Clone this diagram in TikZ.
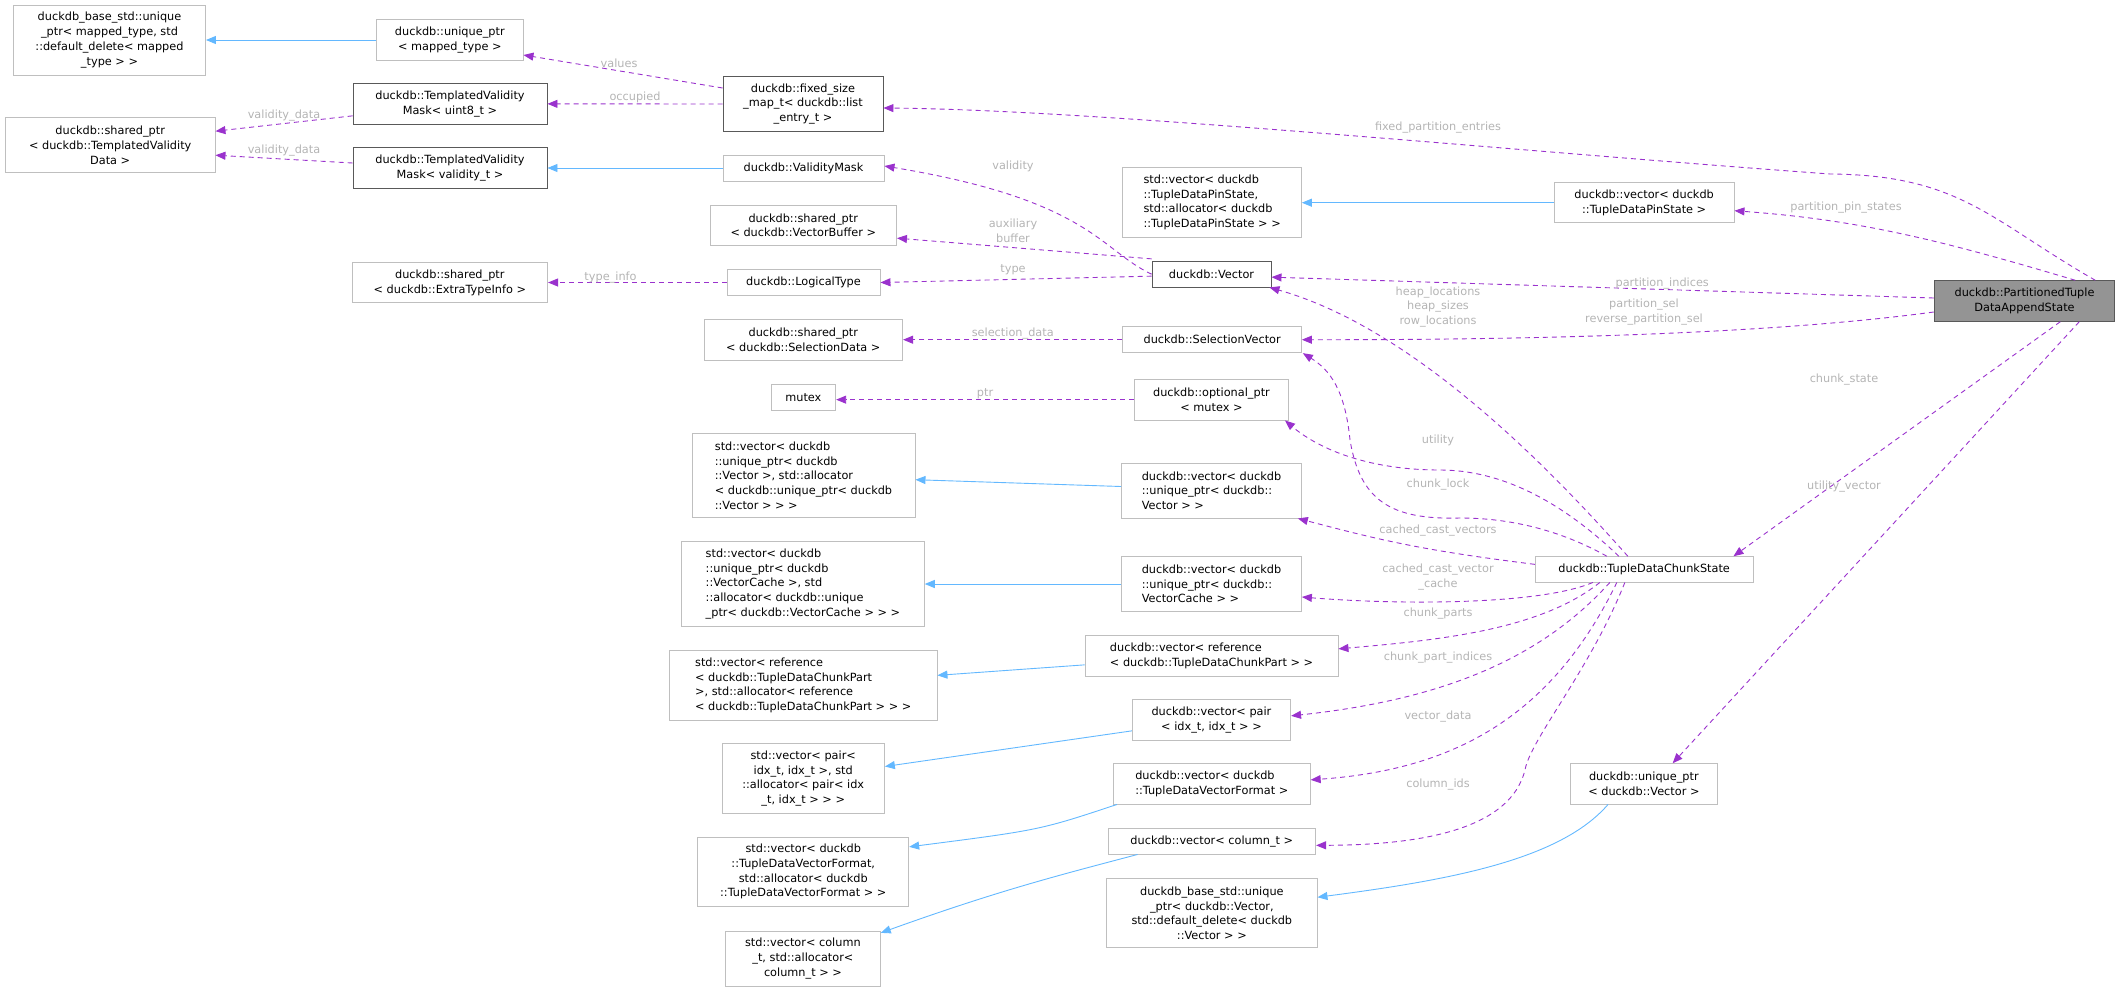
\documentclass[tikz,border=0pt]{standalone}
\usepackage{fontspec}
\setmainfont{DejaVu Sans}
\usetikzlibrary{arrows.meta}
\definecolor{dep}{HTML}{9A32CD}
\definecolor{inh}{HTML}{63B8FF}
\definecolor{lbl}{HTML}{B4B4B4}
\tikzset{
  box/.style={draw=black!25,line width=0.9pt,fill=white,inner sep=0pt,align=center,font=\fontsize{11.3}{14.7}\selectfont},
  dbox/.style={box,draw=black!65},
  mbox/.style={box,draw=black!65,fill=black!42},
  lbox/.style={box,align=left},
  dep/.style={draw=dep,dashed,dash pattern=on 5pt off 4pt,line width=0.9pt,-{Triangle[width=8pt,length=10pt]}},
  inh/.style={draw=inh,line width=0.9pt,-{Triangle[width=8pt,length=10pt]}},
  el/.style={text=lbl,font=\fontsize{11.3}{14.7}\selectfont,align=center,inner sep=1pt}
}
\newcommand\nd[7][box]{\node[#1,minimum width={#5pt-#3pt},minimum height={#6pt-#4pt}] (#2) at ({(#3+#5)/2},{(#4+#6)/2}) {#7};}
\begin{document}
\begin{tikzpicture}[x=1pt,y=-1pt]
\useasboundingbox (0,0) rectangle (2121,991);
% nodes
\nd{bum}{13.5}{5}{205.5}{75}{duckdb\_base\_std::unique\\\_ptr< mapped\_type, std\\::default\_delete< mapped\\\_type > >}
\nd{um}{376.6}{19.7}{523}{60.3}{duckdb::unique\_ptr\\< mapped\_type >}
\nd[dbox]{fsm}{723}{76.7}{883}{131.3}{duckdb::fixed\_size\\\_map\_t< duckdb::list\\\_entry\_t >}
\nd[dbox]{tvu}{353}{83.7}{547}{124}{duckdb::TemplatedValidity\\Mask< uint8\_t >}
\nd{stvd}{5.4}{117.7}{215}{172.7}{duckdb::shared\_ptr\\< duckdb::TemplatedValidity\\Data >}
\nd[dbox]{tvv}{353}{147.7}{547}{188.3}{duckdb::TemplatedValidity\\Mask< validity\_t >}
\nd{vm}{723}{155}{884}{181}{duckdb::ValidityMask}
\nd{svb}{710}{205}{896.5}{245.3}{duckdb::shared\_ptr\\< duckdb::VectorBuffer >}
\nd{seti}{352}{262.7}{547.6}{302.7}{duckdb::shared\_ptr\\< duckdb::ExtraTypeInfo >}
\nd{lt}{727}{269.7}{880}{295.3}{duckdb::LogicalType}
\nd{ssd}{704}{319.7}{902.6}{360}{duckdb::shared\_ptr\\< duckdb::SelectionData >}
\nd{mtx}{771}{384.3}{835.7}{410}{mutex}
\nd[lbox]{suv}{692}{433.7}{915}{517.7}{std::vector< duckdb\\::unique\_ptr< duckdb\\::Vector >, std::allocator\\< duckdb::unique\_ptr< duckdb\\::Vector > > >}
\nd[lbox]{svc}{681.5}{541.7}{924.3}{626}{std::vector< duckdb\\::unique\_ptr< duckdb\\::VectorCache >, std\\::allocator< duckdb::unique\\\_ptr< duckdb::VectorCache > > >}
\nd[lbox]{sref}{669.4}{650.7}{937}{720}{std::vector< reference\\< duckdb::TupleDataChunkPart\\ >, std::allocator< reference\\< duckdb::TupleDataChunkPart > > >}
\nd{spair}{722}{743.7}{884.4}{813.3}{std::vector< pair<\\idx\_t, idx\_t >, std\\::allocator< pair< idx\\\_t, idx\_t > > >}
\nd{stdvf}{697.8}{837.3}{908.7}{906.3}{std::vector< duckdb\\::TupleDataVectorFormat,\\std::allocator< duckdb\\::TupleDataVectorFormat > >}
\nd{scol}{725.5}{931.3}{880.3}{986}{std::vector< column\\\_t, std::allocator<\\column\_t > >}
\nd[lbox]{stps}{1122.9}{167.3}{1301.4}{237.3}{std::vector< duckdb\\::TupleDataPinState,\\ std::allocator< duckdb\\::TupleDataPinState > >}
\nd{vtps}{1554.3}{182.7}{1734}{222.7}{duckdb::vector< duckdb\\::TupleDataPinState >}
\nd[dbox]{vec}{1152}{261.3}{1271}{287}{duckdb::Vector}
\nd[mbox]{pt}{1934.2}{280.7}{2114.8}{321.3}{duckdb::PartitionedTuple\\DataAppendState}
\nd{sv}{1122.9}{326.7}{1301.4}{352.7}{duckdb::SelectionVector}
\nd{opt}{1134.4}{379.3}{1288.5}{420}{duckdb::optional\_ptr\\< mutex >}
\nd[lbox]{vuv}{1121.5}{463}{1301.4}{518}{duckdb::vector< duckdb\\::unique\_ptr< duckdb::\\Vector > >}
\nd{tdcs}{1535.3}{556.7}{1753}{582}{duckdb::TupleDataChunkState}
\nd[lbox]{vvc}{1121.5}{556.7}{1301.4}{611.3}{duckdb::vector< duckdb\\::unique\_ptr< duckdb::\\VectorCache > >}
\nd[lbox]{vref}{1085}{635.7}{1338}{676}{duckdb::vector< reference\\< duckdb::TupleDataChunkPart > >}
\nd{vpair}{1132.3}{699.7}{1290.6}{740}{duckdb::vector< pair\\< idx\_t, idx\_t > >}
\nd[lbox]{vtdvf}{1113.4}{763.7}{1310.2}{804}{duckdb::vector< duckdb\\::TupleDataVectorFormat >}
\nd{vcol}{1108}{828.7}{1315.6}{854}{duckdb::vector< column\_t >}
\nd{uv}{1570.5}{763.7}{1717.2}{804}{duckdb::unique\_ptr\\< duckdb::Vector >}
\nd{buv}{1106.7}{878.7}{1317}{947.7}{duckdb\_base\_std::unique\\\_ptr< duckdb::Vector,\\std::default\_delete< duckdb\\::Vector > >}
% inheritance
\draw[inh] (um.west) -- (um.west -| bum.east);
\draw[inh] (vm.west) -- (vm.west -| tvv.east);
\draw[inh] (vtps.west) -- (vtps.west -| stps.east);
\draw[inh] ([yshift=4pt]vuv.west) -- ([yshift=-4pt]suv.east);
\draw[inh] (vvc.west) -- (vvc.west -| svc.east);
\draw[inh] ([yshift=-9pt]vref.west) -- ([yshift=10pt]sref.east);
\draw[inh] ([yshift=-11pt]vpair.west) -- ([yshift=12pt]spair.east);
\draw[inh] ([xshift=4pt]vtdvf.south west) .. controls (1040,830) .. ([yshift=-10pt]stdvf.north east);
\draw[inh] ([xshift=30pt]vcol.south west) .. controls (1060,875) and (1000,890) .. ([yshift=-2pt]scol.north east);
\draw[inh] ([xshift=38pt]uv.south west) .. controls (1560,860) and (1450,880) .. ([yshift=-19pt]buv.north east);
% dependencies
\draw[dep] ([yshift=16pt]fsm.west) -- ([yshift=-15pt]um.east) node[el,pos=0.52,above=2pt]{values};
\draw[dep] (fsm.west) -- (tvu.east) node[el,pos=0.5,above=0pt]{occupied};
\draw[dep] ([yshift=-12pt]tvu.west) -- ([yshift=14pt]stvd.east) node[el,pos=0.5,above=1pt]{validity\_data};
\draw[dep] ([yshift=5pt]tvv.west) -- ([yshift=-10pt]stvd.east) node[el,pos=0.5,above=1pt]{validity\_data};
\draw[dep] ([xshift=-20pt]pt.north east) .. controls (1990,220) and (1960,175) .. (1830,174) .. controls (1500,150) and (1100,110) .. ([yshift=-4pt]fsm.east);
\node[el] at (1438,128) {fixed\_partition\_entries};
\draw[dep] ([xshift=-40pt]pt.north east) .. controls (1940,240) and (1860,220) .. ([yshift=-8pt]vtps.east);
\node[el] at (1846,208) {partition\_pin\_states};
\draw[dep] ([yshift=3pt]pt.west) -- ([yshift=-3pt]vec.east) node[el,pos=0.41,above=-1pt]{partition\_indices};
\draw[dep] ([yshift=-11pt]pt.west) .. controls (1800,330) and (1600,340) .. (sv.east);
\node[el] at (1644,312) {partition\_sel\\reverse\_partition\_sel};
\draw[dep] ([xshift=-55pt]pt.south east) -- ([xshift=-20pt]tdcs.north east);
\node[el] at (1844,380) {chunk\_state};
\draw[dep] ([xshift=-36pt]pt.south east) -- ([xshift=-45pt]uv.north east);
\node[el] at (1844,487) {utility\_vector};
\draw[dep] (vec.west) .. controls (1100,250) and (1090,200) .. ([yshift=2pt]vm.east);
\node[el] at (1013,166) {validity};
\draw[dep] ([yshift=2pt]vec.north west) -- ([yshift=-13pt]svb.east);
\node[el] at (1013,231) {auxiliary\\buffer};
\draw[dep] ([yshift=-2pt]vec.west) -- (lt.east);
\node[el] at (1013,270) {type};
\draw[dep] (lt.west) -- (lt.west -| seti.east) node[el,pos=0.65,above=-2pt]{type\_info};
\draw[dep] (sv.west) -- (sv.west -| ssd.east) node[el,pos=0.5,above=-1pt]{selection\_data};
\draw[dep] (opt.west) -- (opt.west -| mtx.east) node[el,pos=0.5,above=-1pt]{ptr};
\draw[dep] ([xshift=93pt]tdcs.north west) .. controls (1560,480) and (1420,330) .. ([xshift=-2pt]vec.south east);
\node[el] at (1438,307) {heap\_locations\\heap\_sizes\\row\_locations};
\draw[dep] ([xshift=72pt]tdcs.north west) .. controls (1560,530) and (1510,518) .. (1460,518) .. controls (1390,520) and (1360,500) .. (1350,440) .. controls (1345,390) and (1330,370) .. ([xshift=1pt]sv.south east);
\node[el] at (1438,440) {utility};
\draw[dep] ([xshift=84pt]tdcs.north west) .. controls (1560,500) and (1500,470) .. (1440,470) .. controls (1370,470) and (1320,450) .. ([xshift=-4pt]opt.south east);
\node[el] at (1438,485) {chunk\_lock};
\draw[dep] ([yshift=5pt]tdcs.west) .. controls (1420,550) and (1380,540) .. ([xshift=-4pt]vuv.south east);
\node[el] at (1438,531) {cached\_cast\_vectors};
\draw[dep] ([xshift=58pt]tdcs.south west) .. controls (1540,605) and (1400,605) .. ([yshift=-13pt]vvc.east);
\node[el] at (1438,577) {cached\_cast\_vector\\\_cache};
\draw[dep] ([xshift=65pt]tdcs.south west) .. controls (1540,630) and (1440,640) .. ([yshift=7pt]vref.east);
\node[el] at (1438,614) {chunk\_parts};
\draw[dep] ([xshift=75pt]tdcs.south west) .. controls (1540,660) and (1440,700) .. ([yshift=4pt]vpair.east);
\node[el] at (1438,658) {chunk\_part\_indices};
\draw[dep] ([xshift=82pt]tdcs.south west) .. controls (1550,720) and (1450,770) .. ([yshift=4pt]vtdvf.east);
\node[el] at (1438,717) {vector\_data};
\draw[dep] ([xshift=90pt]tdcs.south west) .. controls (1590,670) and (1530,740) .. (1525,770) .. controls (1510,830) and (1420,845) .. ([yshift=-4pt]vcol.east);
\node[el] at (1438,785) {column\_ids};
\end{tikzpicture}
\end{document}
